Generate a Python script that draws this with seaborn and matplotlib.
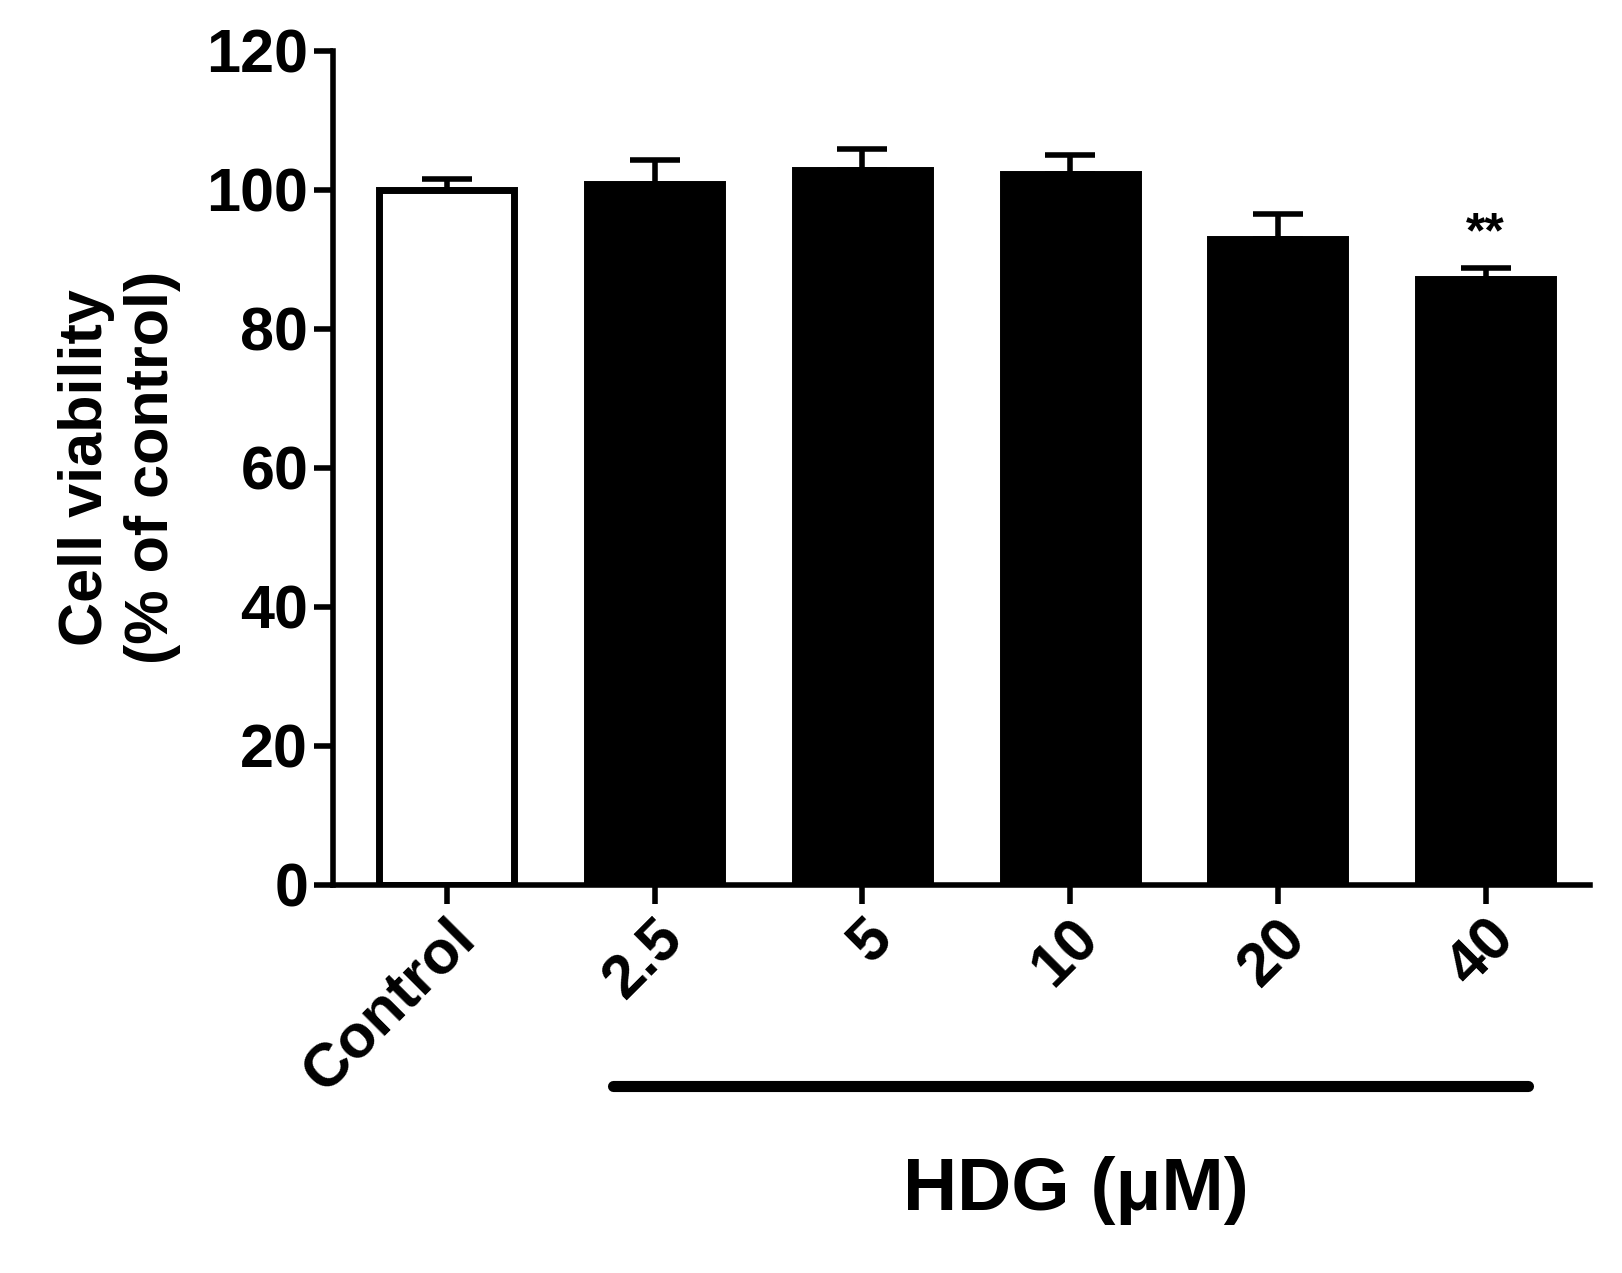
import matplotlib
matplotlib.use("Agg")
import matplotlib.pyplot as plt
import seaborn as sns
import pandas as pd
import numpy as np

categories = ["Control", "2.5", "5", "10", "20", "40"]
means = [100.0, 100.8, 102.8, 102.3, 93.0, 87.2]
errors = [1.5, 3.5, 3.1, 2.7, 3.6, 1.6]
sig = ["", "", "", "", "", "**"]
colors = ["white", "black", "black", "black", "black", "black"]

sns.set_style("ticks")
plt.rcParams['font.family'] = ['Liberation Sans', 'DejaVu Sans']
plt.rcParams['font.weight'] = 'bold'
for k in ["text.color", "axes.labelcolor", "xtick.color", "ytick.color", "axes.edgecolor"]:
    plt.rcParams[k] = "black"

df = pd.DataFrame({"group": categories, "value": means})
fig = plt.figure(figsize=(16.22, 12.73), dpi=100)
ax = fig.add_axes([0.205, 0.305, 0.775, 0.655])
sns.barplot(data=df, x="group", y="value", hue="group", palette=colors,
            legend=False, width=0.65, edgecolor="black", linewidth=5, ax=ax, errorbar=None)
x = np.arange(len(categories))
ax.errorbar(x, means, yerr=[np.zeros(len(errors)), errors], fmt="none",
            ecolor="black", elinewidth=4, capsize=18, capthick=4)
for xi, m, e, s in zip(x, means, errors, sig):
    if s:
        ax.text(xi, m + e + 1.5, s, ha="center", va="bottom", fontsize=36, fontweight="bold")

ax.set_ylim(0, 120)
ax.set_xlim(-0.55, 5.5)
ax.set_yticks([0, 20, 40, 60, 80, 100, 120])
ax.tick_params(axis="both", width=4, length=14, labelsize=44, colors="black")
ax.set_xticks(x)
ax.set_xticklabels(categories, rotation=45, ha="right", rotation_mode="anchor")
for lbl in ax.get_xticklabels() + ax.get_yticklabels():
    lbl.set_fontweight("bold")
ax.set_xlabel("")
ax.set_ylabel("Cell viability\n(% of control)", fontsize=44, fontweight="bold", labelpad=18)
for sp in ["left", "bottom"]:
    ax.spines[sp].set_linewidth(4)
sns.despine(ax=ax)

fig.add_artist(plt.Line2D([0.378, 0.942], [0.147, 0.147], color="black", lw=8))
fig.text(0.663, 0.065, "HDG (μM)", ha="center", va="center", fontsize=54, fontweight="bold")

fig.savefig("out.png", dpi=100)
